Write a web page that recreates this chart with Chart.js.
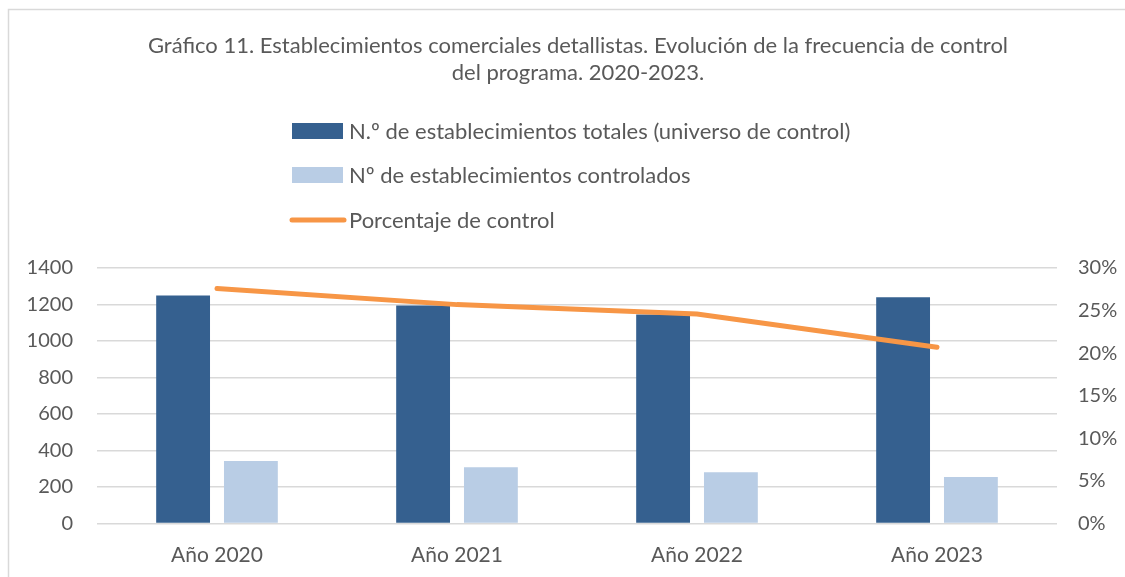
<!DOCTYPE html>
<html>
<head>
<meta charset="utf-8">
<script src="https://cdn.jsdelivr.net/npm/chart.js@4/dist/chart.umd.min.js"></script>
<style>
	html, body { margin: 0; padding: 0; background: #fff; }
	#wrap { width: 1125px; height: 577px; }
</style>
</head>
<body>
<div id="wrap"><canvas id="chart" width="1125" height="577"></canvas></div>
<script>
var years = ['Año 2020', 'Año 2021', 'Año 2022', 'Año 2023'];
var totales = [1250, 1195, 1145, 1240];
var controlados = [343, 308, 281, 255];
var porcentaje = [27.6, 25.7, 24.6, 20.7];
var titulo = ['Gráfico 11. Establecimientos comerciales detallistas. Evolución de la frecuencia de control', 'del programa. 2020-2023.'];

var FONT = 'Lato, "Open Sans", sans-serif';
var GREY = '#595959';

// frame, title and the vertical legend are drawn by hand
var decor = {
	id: 'decor',
	beforeDraw: function(chart) {
		var c = chart.ctx;
		c.save();
		c.fillStyle = '#fff';
		c.fillRect(0, 0, chart.width, chart.height);
		c.strokeStyle = '#d9d9d9';
		c.lineWidth = 1.5;
		c.strokeRect(8.5, 9.5, 1300, 800);
		c.restore();
	},
	afterDraw: function(chart) {
		var c = chart.ctx;
		c.save();
		c.fillStyle = GREY;
		c.font = '22px ' + FONT;
		c.textAlign = 'center';
		c.textBaseline = 'middle';
		c.fillText(titulo[0], 578, 46);
		c.fillText(titulo[1], 578, 73);

		c.textAlign = 'left';
		var ys = [131, 175, 220];
		chart.data.datasets.forEach(function(ds, i) {
			var y = ys[i];
			if (ds.type === 'line') {
				c.strokeStyle = ds.borderColor;
				c.lineWidth = 5;
				c.lineCap = 'round';
				c.beginPath();
				c.moveTo(292, y);
				c.lineTo(344, y);
				c.stroke();
			} else {
				c.fillStyle = ds.backgroundColor;
				c.fillRect(292, y - 8, 51, 16);
			}
			c.fillStyle = GREY;
			c.fillText(ds.label, 349, y + 1);
		});
		c.restore();
	}
};

var ctx = document.getElementById('chart').getContext('2d');
var chart = new Chart(ctx, {
	type: 'bar',
	data: {
		labels: years,
		datasets: [{
			label: 'N.º de establecimientos totales (universo de control)',
			data: totales,
			backgroundColor: '#35608f',
			yAxisID: 'y',
			order: 1
		}, {
			label: 'Nº de establecimientos controlados',
			data: controlados,
			backgroundColor: '#b9cde5',
			yAxisID: 'y',
			order: 1
		}, {
			type: 'line',
			label: 'Porcentaje de control',
			data: porcentaje,
			borderColor: '#f79646',
			borderWidth: 5,
			borderCapStyle: 'round',
			pointRadius: 0,
			tension: 0,
			fill: false,
			yAxisID: 'y1',
			order: 0
		}]
	},
	options: {
		responsive: false,
		animation: false,
		datasets: {
			bar: { categoryPercentage: 0.565, barPercentage: 0.794 }
		},
		layout: { padding: { top: 268, left: 0, right: 0, bottom: 0 } },
		plugins: {
			legend: { display: false },
			title: { display: false },
			tooltip: { enabled: false }
		},
		scales: {
			x: {
				grid: { display: false, drawTicks: false },
				border: { display: false },
				ticks: { color: GREY, font: { family: FONT, size: 21 }, padding: 19 },
				afterFit: function(s) { s.height = 53.5; }
			},
			y: {
				position: 'left',
				min: 0,
				max: 1400,
				ticks: {
					stepSize: 200,
					color: GREY,
					font: { family: FONT, size: 20 },
					padding: 24,
					callback: function(v) { return String(v); }
				},
				grid: { color: '#d9d9d9', lineWidth: 1.5, drawTicks: false },
				border: { display: false },
				afterFit: function(s) { s.width = 97; }
			},
			y1: {
				position: 'right',
				min: 0,
				max: 30,
				ticks: {
					stepSize: 5,
					color: GREY,
					font: { family: FONT, size: 20 },
					padding: 21,
					callback: function(v) { return v + '%'; }
				},
				grid: { display: false, drawTicks: false },
				border: { display: false },
				afterFit: function(s) { s.width = 68; }
			}
		}
	},
	plugins: [decor]
});
</script>
</body>
</html>
